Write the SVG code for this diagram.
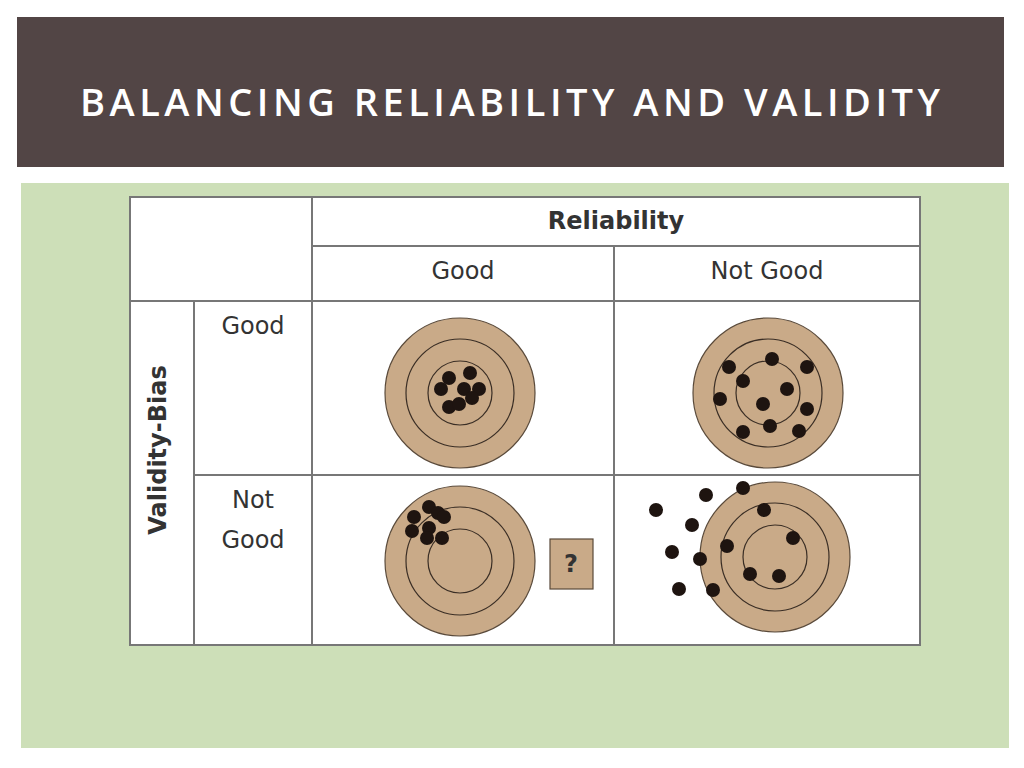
<svg xmlns="http://www.w3.org/2000/svg" width="1024" height="768" viewBox="0 0 1024 768">
<style>
.t{font-family:"DejaVu Sans","Open Sans",sans-serif;fill:#333;font-size:24px;text-anchor:middle}
.ln{stroke:#777;stroke-width:2;fill:none}
.tg{fill:#c9aa88;stroke:#5a4a3a;stroke-width:1.2}
.rg{fill:none;stroke:#3a2e25;stroke-width:1.2}
.d{fill:#1e1410}
</style>
<rect width="1024" height="768" fill="#fff"/>
<rect x="17" y="17" width="987" height="150" fill="#524545"/>
<text x="80" y="116" font-family="Open Sans, DejaVu Sans, sans-serif" font-size="38" font-weight="600" fill="#fff" textLength="860" lengthAdjust="spacing">BALANCING RELIABILITY AND VALIDITY</text>
<rect x="21" y="183" width="988" height="565" fill="#cddfb8"/>
<g id="table">
<rect x="130" y="197" width="790" height="448" fill="#fff" stroke="#777" stroke-width="2"/>
<path class="ln" d="M312 197V645M312 246H920M130 301H920M194 301V645M194 475H920M614 246V645"/>
<text class="t" x="616" y="229" font-weight="bold" font-size="25">Reliability</text>
<text class="t" x="463" y="279">Good</text>
<text class="t" x="767" y="279">Not Good</text>
<text class="t" x="253" y="334">Good</text>
<text class="t" x="253" y="508">Not</text>
<text class="t" x="253" y="548">Good</text>
<text class="t" transform="translate(166,450) rotate(-90)" font-weight="bold" font-size="19">Validity-Bias</text>
</g>
<g id="t1">
<circle class="tg" cx="460" cy="393" r="75"/><circle class="rg" cx="460" cy="393" r="54"/><circle class="rg" cx="460" cy="393" r="32"/>
<g class="d"><circle cx="449" cy="378" r="7"/><circle cx="470" cy="373" r="7"/><circle cx="441" cy="389" r="7"/><circle cx="464" cy="389" r="7"/><circle cx="479" cy="389" r="7"/><circle cx="472" cy="398" r="7"/><circle cx="449" cy="407" r="7"/><circle cx="459" cy="404" r="7"/></g>
</g>
<g id="t2">
<circle class="tg" cx="768" cy="393" r="75"/><circle class="rg" cx="768" cy="393" r="54"/><circle class="rg" cx="768" cy="393" r="32"/>
<g class="d"><circle cx="729" cy="367" r="7"/><circle cx="772" cy="359" r="7"/><circle cx="807" cy="367" r="7"/><circle cx="743" cy="381" r="7"/><circle cx="787" cy="389" r="7"/><circle cx="720" cy="399" r="7"/><circle cx="763" cy="404" r="7"/><circle cx="807" cy="409" r="7"/><circle cx="770" cy="426" r="7"/><circle cx="743" cy="432" r="7"/><circle cx="799" cy="431" r="7"/></g>
</g>
<g id="t3">
<circle class="tg" cx="460" cy="561" r="75"/><circle class="rg" cx="460" cy="561" r="54"/><circle class="rg" cx="460" cy="561" r="32"/>
<g class="d"><circle cx="429" cy="507" r="7"/><circle cx="438" cy="513" r="7"/><circle cx="444" cy="517" r="7"/><circle cx="414" cy="517" r="7"/><circle cx="429" cy="528" r="7"/><circle cx="412" cy="531" r="7"/><circle cx="427" cy="538" r="7"/><circle cx="442" cy="538" r="7"/></g>
</g>
<g id="q">
<rect x="550" y="539" width="43" height="50" fill="#c9aa88" stroke="#5a4a3a" stroke-width="1.2"/>
<text class="t" x="571" y="572" font-size="15" font-weight="bold">?</text>
</g>
<g id="t4">
<circle class="tg" cx="775" cy="557" r="75"/><circle class="rg" cx="775" cy="557" r="54"/><circle class="rg" cx="775" cy="557" r="32"/>
<g class="d"><circle cx="656" cy="510" r="7"/><circle cx="706" cy="495" r="7"/><circle cx="743" cy="488" r="7"/><circle cx="692" cy="525" r="7"/><circle cx="764" cy="510" r="7"/><circle cx="727" cy="546" r="7"/><circle cx="793" cy="538" r="7"/><circle cx="672" cy="552" r="7"/><circle cx="700" cy="559" r="7"/><circle cx="750" cy="574" r="7"/><circle cx="779" cy="576" r="7"/><circle cx="679" cy="589" r="7"/><circle cx="713" cy="590" r="7"/></g>
</g>
</svg>
